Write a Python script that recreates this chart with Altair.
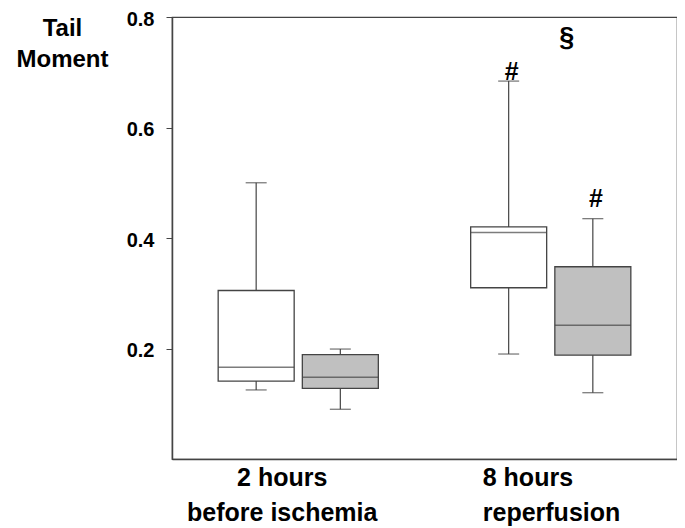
import altair as alt
import pandas as pd

# ---- data ----
periods = ["2 hours|before ischemia", "8 hours|reperfusion"]
groups = ["A", "B"]

box_period = [periods[0], periods[0], periods[1], periods[1]]
box_group = ["A", "B", "A", "B"]
lows = [0.125, 0.090, 0.190, 0.120]
q1s = [0.141, 0.128, 0.310, 0.188]
medians = [0.166, 0.148, 0.410, 0.242]
q3s = [0.305, 0.189, 0.420, 0.348]
highs = [0.500, 0.199, 0.684, 0.435]

mark_period = [periods[1], periods[1]]
mark_group = ["A", "B"]
mark_y = [0.700, 0.470]
mark_text = ["#", "#"]

sect_period = [periods[1]]
sect_y = [0.762]
sect_text = ["§"]

df = pd.DataFrame({
    "period": box_period, "group": box_group,
    "low": lows, "q1": q1s, "median": medians, "q3": q3s, "high": highs,
})
ann = pd.DataFrame({"period": mark_period, "group": mark_group, "y": mark_y, "t": mark_text})
sect = pd.DataFrame({"period": sect_period, "y": sect_y, "t": sect_text})

FONT = "Liberation Sans"
STROKE = "#444444"

x_enc = alt.X(
    "period:N",
    sort=periods,
    scale=alt.Scale(domain=periods, paddingInner=0, paddingOuter=0),
    axis=alt.Axis(
        title=None,
        ticks=False,
        grid=False,
        labelExpr="split(datum.value, '|')",
        labelFont=FONT,
        labelFontSize=25,
        labelFontWeight="bold",
        labelColor="black",
        labelLineHeight=35,
        labelPadding=6,
        labelBaseline="top",
        labelAngle=0,
        labelLimit=0,
        labelOverlap=False,
        labelAlign={"condition": {"test": "datum.value == '8 hours|reperfusion'", "value": "left"}, "value": "center"},
        labelOffset={"condition": {"test": "datum.value == '8 hours|reperfusion'", "value": -68}, "value": -16},
        domainColor=STROKE,
        domainWidth=1.5,
    ),
)
xo_enc = alt.XOffset(
    "group:N",
    sort=groups,
    scale=alt.Scale(domain=groups, paddingInner=0, paddingOuter=0.5),
)
y_scale = alt.Scale(domain=[0, 0.8], nice=False, zero=False)
y_axis = alt.Axis(
    values=[0.2, 0.4, 0.6, 0.8],
    format=".1f",
    grid=False,
    tickSize=6,
    tickColor=STROKE,
    domainColor=STROKE,
    domainWidth=1.5,
    labelFont=FONT,
    labelFontSize=20,
    labelFontWeight="bold",
    labelColor="black",
    labelPadding=12,
    labelOffset=2,
    title=["Tail", "Moment"],
    titleAngle=0,
    titleX=-110,
    titleY=18,
    titleAlign="center",
    titleBaseline="alphabetic",
    titleFont=FONT,
    titleFontSize=24,
    titleFontWeight="bold",
    titleColor="black",
    titleLineHeight=31,
)

base = alt.Chart(df)

whisker = base.mark_rule(color=STROKE, strokeWidth=1.2).encode(
    x=x_enc, xOffset=xo_enc,
    y=alt.Y("low:Q", scale=y_scale, axis=y_axis),
    y2="high:Q",
)
caps_low = base.mark_tick(color=STROKE, size=21, thickness=1.3, orient="horizontal").encode(
    x=x_enc, xOffset=xo_enc, y=alt.Y("low:Q", scale=y_scale),
)
caps_high = base.mark_tick(color=STROKE, size=21, thickness=1.3, orient="horizontal").encode(
    x=x_enc, xOffset=xo_enc, y=alt.Y("high:Q", scale=y_scale),
)
boxes = base.mark_bar(size=76, stroke=STROKE, strokeWidth=1.3).encode(
    x=x_enc, xOffset=xo_enc,
    y=alt.Y("q1:Q", scale=y_scale),
    y2="q3:Q",
    fill=alt.Fill("group:N", scale=alt.Scale(domain=groups, range=["#ffffff", "#c0c0c0"]), legend=None),
)
med = base.mark_tick(color=STROKE, size=76, thickness=1.5, orient="horizontal").encode(
    x=x_enc, xOffset=xo_enc, y=alt.Y("median:Q", scale=y_scale),
)
hashes = alt.Chart(ann).mark_text(
    font=FONT, fontSize=25, fontWeight="bold", color="black", baseline="middle", dx=3
).encode(
    x=x_enc, xOffset=xo_enc, y=alt.Y("y:Q", scale=y_scale), text="t:N",
)
section = alt.Chart(sect).mark_text(
    font=FONT, fontSize=27, fontWeight="bold", color="black", baseline="middle", dx=16
).encode(
    x=x_enc, y=alt.Y("y:Q", scale=y_scale), text="t:N",
)

chart = alt.layer(whisker, caps_low, caps_high, boxes, med, hashes, section).properties(
    width=505,
    height=442,
    autosize=alt.AutoSizeParams(type="none"),
    padding={"left": 164, "top": 9, "right": 0, "bottom": 68},
    background="white",
).configure_view(stroke=STROKE, strokeWidth=1.2)

chart.save("out.html", embed_options={"renderer": "svg", "actions": False})
